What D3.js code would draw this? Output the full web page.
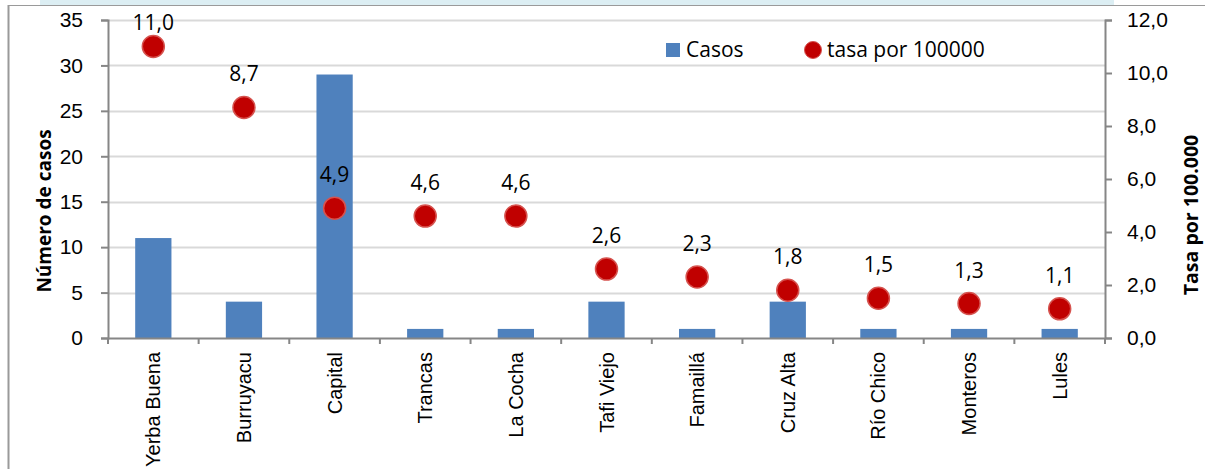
<!DOCTYPE html>
<html>
<head>
<meta charset="utf-8">
<script src="https://cdn.jsdelivr.net/npm/d3@7"></script>
<style>
body { margin: 0; background: #fff; }
svg { display: block; font-family: "Open Sans", "Noto Sans", sans-serif; }
</style>
</head>
<body>
<div id="chart"></div>
<script>
var departamentos = ["Yerba Buena", "Burruyacu", "Capital", "Trancas", "La Cocha", "Tafi Viejo", "Famaillá", "Cruz Alta", "Río Chico", "Monteros", "Lules"];
var casos = [11, 4, 29, 1, 1, 4, 1, 4, 1, 1, 1];
var tasa = [11.0, 8.7, 4.9, 4.6, 4.6, 2.6, 2.3, 1.8, 1.5, 1.3, 1.1];
var casosTicks = [0, 5, 10, 15, 20, 25, 30, 35];
var tasaTicks = [0, 2, 4, 6, 8, 10, 12];

var width = 1205, height = 469;
var margin = { top: 20, right: 100, bottom: 131, left: 108 };
var coma = function(d) { return d3.format(".1f")(d).replace(".", ","); };

var svg = d3.select("#chart").append("svg")
    .attr("width", width)
    .attr("height", height);

// bits of the document frame around the chart
svg.append("rect").attr("x", 40).attr("y", 0).attr("width", 1074).attr("height", 5).style("fill", "#DCEEF3");
svg.append("line").attr("x1", 8).attr("x2", width).attr("y1", 5.5).attr("y2", 5.5).style("stroke", "#9a9a9a").style("stroke-width", 1);
svg.append("line").attr("x1", 8.5).attr("x2", 8.5).attr("y1", 5).attr("y2", height).style("stroke", "#9a9a9a").style("stroke-width", 2);

var x = d3.scaleBand()
    .domain(departamentos)
    .range([margin.left, width - margin.right]);

var y = d3.scaleLinear().domain([0, 35]).range([height - margin.bottom, margin.top]);
var y2 = d3.scaleLinear().domain([0, 12]).range([height - margin.bottom, margin.top]);

// gridlines
svg.append("g").selectAll("line")
    .data(casosTicks.slice(1))
    .enter().append("line")
    .attr("x1", margin.left).attr("x2", width - margin.right)
    .attr("y1", function(d) { return Math.round(y(d)) + 0.5; })
    .attr("y2", function(d) { return Math.round(y(d)) + 0.5; })
    .style("stroke", "#d9d9d9").style("stroke-width", 2);

// bars
var barW = x.bandwidth() * 0.4;
svg.append("g").selectAll("rect")
    .data(casos)
    .enter().append("rect")
    .attr("x", function(d, i) { return x(departamentos[i]) + (x.bandwidth() - barW) / 2; })
    .attr("width", barW)
    .attr("y", function(d) { return y(d); })
    .attr("height", function(d) { return y(0) - y(d); })
    .style("fill", "#4F81BD");

// left axis
var yAxis = svg.append("g")
    .attr("transform", "translate(" + margin.left + ",0)")
    .call(d3.axisLeft(y).tickValues(casosTicks).tickSize(7).tickPadding(18));
yAxis.selectAll("text").style("font-size", "21px").style("fill", "#000");

// right axis
var y2Axis = svg.append("g")
    .attr("transform", "translate(" + (width - margin.right) + ",0)")
    .call(d3.axisRight(y2).tickValues(tasaTicks).tickSize(7).tickPadding(15).tickFormat(coma));
y2Axis.selectAll("text").style("font-size", "21px").style("fill", "#000");

// bottom axis
var xAxis = svg.append("g")
    .attr("transform", "translate(0," + (height - margin.bottom) + ")")
    .call(d3.axisBottom(x).tickSize(0).tickPadding(0));
xAxis.selectAll("text")
    .attr("transform", "rotate(-90)")
    .attr("x", -14).attr("y", 0).attr("dy", "0.35em")
    .style("text-anchor", "end")
    .style("font-size", "20px").style("fill", "#000");
xAxis.selectAll(".sep")
    .data(departamentos.concat(["end"]))
    .enter().append("line")
    .attr("x1", function(d, i) { return margin.left + i * x.step(); })
    .attr("x2", function(d, i) { return margin.left + i * x.step(); })
    .attr("y1", 0).attr("y2", 6)
    .style("stroke", "#868686").style("stroke-width", 2);

svg.selectAll(".domain").style("stroke", "#868686").style("stroke-width", 2);
svg.selectAll(".tick line").style("stroke", "#868686").style("stroke-width", 2);

// dots with labels
var dots = svg.append("g").selectAll("g")
    .data(tasa)
    .enter().append("g");
dots.append("circle")
    .attr("cx", function(d, i) { return x(departamentos[i]) + x.bandwidth() / 2; })
    .attr("cy", function(d) { return y2(d); })
    .attr("r", 11)
    .style("fill", "#C00000")
    .style("stroke", "#D6534F").style("stroke-width", 1.5);
dots.append("text")
    .attr("x", function(d, i) { return x(departamentos[i]) + x.bandwidth() / 2; })
    .attr("y", function(d) { return Math.max(y2(d) - 26, margin.top + 10); })
    .attr("text-anchor", "middle")
    .style("font-size", "21px")
    .text(coma);

// axis titles
svg.append("text")
    .attr("transform", "translate(51,211) rotate(-90)")
    .attr("text-anchor", "middle")
    .style("font-size", "19px").style("font-weight", "bold")
    .text("Número de casos");
svg.append("text")
    .attr("transform", "translate(1198,215) rotate(-90)")
    .attr("text-anchor", "middle")
    .style("font-size", "19.5px").style("font-weight", "bold")
    .text("Tasa por 100.000");

// legend
var legend = svg.append("g");
legend.append("rect").attr("x", 666).attr("y", 43).attr("width", 14).attr("height", 14).style("fill", "#4F81BD");
legend.append("text").attr("x", 686).attr("y", 57).style("font-size", "21px").text("Casos");
legend.append("circle").attr("cx", 813).attr("cy", 50).attr("r", 8.5).style("fill", "#C00000").style("stroke", "#D6534F");
legend.append("text").attr("x", 827).attr("y", 57).style("font-size", "21px").text("tasa por 100000");
</script>
</body>
</html>
